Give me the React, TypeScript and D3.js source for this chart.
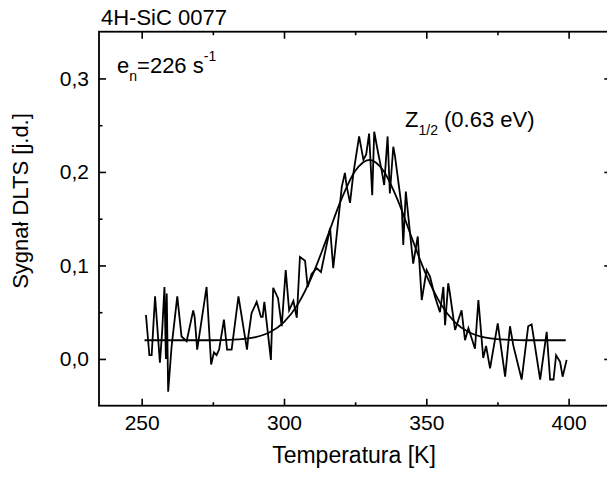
import React, { useEffect, useRef } from 'react';
import * as d3 from 'd3';

// measured DLTS signal (noisy trace)
const temperature = [
  251.5, 252.7, 253.5, 254.7, 256.4, 257.2, 258.0, 258.5, 258.8, 259.3, 260.5, 262.5, 264.0, 265.8,
  268.1, 268.6, 269.5, 272.8, 274.4, 275.4, 276.3, 277.2, 278.9, 280.0, 281.6, 284.0, 287.0, 287.5,
  288.6, 290.4, 291.9, 292.5, 293.1, 295.4, 296.2, 297.9, 299.2, 300.6, 301.8, 303.3, 304.5, 305.6,
  307.4, 308.3, 309.7, 311.5, 313.0, 316.2, 317.3, 320.3, 321.4, 322.0, 323.2, 324.4, 326.4, 327.9,
  328.9, 329.9, 331.0, 331.7, 333.1, 334.3, 335.2, 336.4, 337.2, 338.4, 339.0, 341.4, 341.9, 342.8,
  344.3, 345.4, 347.0, 348.4, 350.1, 351.3, 353.0, 354.8, 356.0, 356.6, 357.7, 358.3, 360.1, 362.4,
  363.6, 364.8, 367.1, 368.3, 370.0, 371.0, 372.4, 375.1, 377.7, 379.4, 380.6, 383.5, 385.8, 387.0,
  390.0, 392.3, 393.5, 394.7, 395.6, 397.0, 397.9, 399.3,
];
const signal = [
  0.047, 0.004, 0.004, 0.067, -0.004, 0.03, 0.077, 0.0, 0.07, -0.035, 0.013, 0.067, 0.024, 0.019,
  0.052, 0.045, 0.01, 0.077, -0.006, 0.007, 0.004, 0.01, 0.042, 0.01, 0.01, 0.067, 0.01, 0.025,
  0.049, 0.061, 0.045, 0.045, 0.061, -0.001, 0.076, 0.065, 0.035, 0.095, 0.052, 0.062, 0.044, 0.109,
  0.105, 0.077, 0.091, 0.097, 0.093, 0.14, 0.097, 0.184, 0.199, 0.185, 0.167, 0.199, 0.238, 0.213,
  0.219, 0.241, 0.175, 0.243, 0.22, 0.202, 0.186, 0.238, 0.177, 0.227, 0.217, 0.161, 0.122, 0.179,
  0.134, 0.102, 0.131, 0.063, 0.095, 0.088, 0.067, 0.05, 0.077, 0.036, 0.081, 0.07, 0.031, 0.052,
  0.02, 0.033, 0.011, 0.063, 0.001, 0.014, -0.01, 0.038, -0.019, 0.035, 0.014, -0.022, 0.035, 0.037,
  -0.022, 0.029, -0.022, -0.022, 0.004, -0.003, -0.019, -0.001,
];

// fitted Z1/2 peak
const fitTemperature = [
  251, 255, 260, 265, 270, 275, 280, 285, 290, 295, 300, 305, 310, 315, 320, 325, 330, 335, 340, 345,
  350, 355, 360, 365, 370, 375, 380, 385, 390, 395, 399,
];
const fitSignal = [
  0.02, 0.02, 0.02, 0.02, 0.02, 0.02, 0.0203, 0.0211, 0.0233, 0.0285, 0.0394, 0.0592, 0.0896, 0.1287,
  0.1696, 0.201, 0.213, 0.201, 0.1696, 0.1287, 0.0896, 0.0592, 0.0394, 0.0285, 0.0233, 0.0211,
  0.0203, 0.02, 0.02, 0.02, 0.02,
];

const xTicks = [250, 300, 350, 400];
const xMinorTicks = [275, 325, 375];
const yTicks = [0, 0.1, 0.2, 0.3];
const yMinorTicks = [0.05, 0.15, 0.25];

const FONT = "'Liberation Sans', Arial, sans-serif";

export default function App() {
  const ref = useRef<SVGSVGElement>(null);

  useEffect(() => {
    const width = 607;
    const height = 479;
    const svg = d3.select(ref.current);
    svg.selectAll('*').remove();

    const x = d3.scaleLinear().domain([235, 415]).range([99, 611.3]);
    const y = d3.scaleLinear().domain([-0.05, 0.35]).range([405.7, 31.7]);

    const g = svg.append('g');

    // data
    const pts = temperature.map((t, i) => [t, signal[i]] as [number, number]);
    const line = d3
      .line<[number, number]>()
      .x((d) => x(d[0]))
      .y((d) => y(d[1]));
    g.append('path')
      .attr('d', line(pts))
      .attr('fill', 'none')
      .attr('stroke', '#000')
      .attr('stroke-width', 1.8);

    const fit = fitTemperature.map((t, i) => [t, fitSignal[i]] as [number, number]);
    g.append('path')
      .attr('d', line.curve(d3.curveMonotoneX)(fit))
      .attr('fill', 'none')
      .attr('stroke', '#000')
      .attr('stroke-width', 1.8);

    // frame
    g.append('rect')
      .attr('x', x(235))
      .attr('y', y(0.35))
      .attr('width', x(415) - x(235))
      .attr('height', y(-0.05) - y(0.35))
      .attr('fill', 'none')
      .attr('stroke', '#000')
      .attr('stroke-width', 1.8);

    const styleAxis = (sel: d3.Selection<SVGGElement, unknown, null, undefined>) => {
      sel.select('.domain').remove();
      sel.selectAll('line').attr('stroke', '#000').attr('stroke-width', 1.6);
      sel.selectAll('text').attr('font-family', FONT).attr('font-size', 21).attr('fill', '#000');
    };

    const yFmt = (d: d3.NumberValue) => d3.format('.1f')(d as number).replace('.', ',');

    // bottom
    g.append('g')
      .attr('transform', `translate(0,${y(-0.05)})`)
      .call(d3.axisBottom(x).tickValues(xTicks).tickSize(-7).tickSizeOuter(0).tickPadding(9))
      .call(styleAxis);
    g.append('g')
      .attr('transform', `translate(0,${y(-0.05)})`)
      .call(d3.axisBottom(x).tickValues(xMinorTicks).tickSize(-3.5).tickSizeOuter(0).tickFormat(() => ''))
      .call(styleAxis);
    // top
    g.append('g')
      .attr('transform', `translate(0,${y(0.35)})`)
      .call(d3.axisTop(x).tickValues(xTicks).tickSize(-7).tickSizeOuter(0).tickFormat(() => ''))
      .call(styleAxis);
    g.append('g')
      .attr('transform', `translate(0,${y(0.35)})`)
      .call(d3.axisTop(x).tickValues(xMinorTicks).tickSize(-3.5).tickSizeOuter(0).tickFormat(() => ''))
      .call(styleAxis);
    // left
    g.append('g')
      .attr('transform', `translate(${x(235)},0)`)
      .call(d3.axisLeft(y).tickValues(yTicks).tickSize(-7).tickSizeOuter(0).tickPadding(10).tickFormat(yFmt))
      .call(styleAxis);
    g.append('g')
      .attr('transform', `translate(${x(235)},0)`)
      .call(d3.axisLeft(y).tickValues(yMinorTicks).tickSize(-3.5).tickSizeOuter(0).tickFormat(() => ''))
      .call(styleAxis);
    // right
    g.append('g')
      .attr('transform', `translate(${x(415)},0)`)
      .call(d3.axisRight(y).tickValues(yTicks).tickSize(-7).tickSizeOuter(0).tickFormat(() => ''))
      .call(styleAxis);
    g.append('g')
      .attr('transform', `translate(${x(415)},0)`)
      .call(d3.axisRight(y).tickValues(yMinorTicks).tickSize(-3.5).tickSizeOuter(0).tickFormat(() => ''))
      .call(styleAxis);

    // titles
    const text = (tx: number, ty: number, s: string, anchor = 'start', size = 22) =>
      g.append('text')
        .attr('x', tx)
        .attr('y', ty)
        .attr('text-anchor', anchor)
        .attr('font-family', FONT)
        .attr('font-size', size)
        .attr('fill', '#000')
        .text(s);

    text(101, 25, '4H-SiC 0077');
    text(354, 463, 'Temperatura [K]', 'middle', 23);
    text(0, 0, 'Sygnał DLTS [j.d.]', 'middle').attr('transform', `translate(28,201) rotate(-90)`);

    const en = text(117, 73, 'e');
    en.append('tspan').attr('font-size', 14).attr('dy', 8).text('n');
    en.append('tspan').attr('dy', -8).text('=226 s');
    en.append('tspan').attr('font-size', 14).attr('dy', -12).text('-1');

    const z = text(405, 127, 'Z');
    z.append('tspan').attr('font-size', 14).attr('dy', 8).text('1/2');
    z.append('tspan').attr('dy', -8).text(' (0.63 eV)');

    svg.attr('width', width).attr('height', height);
  }, []);

  return (
    <svg
      ref={ref}
      width={607}
      height={479}
      style={{ position: 'absolute', left: 0, top: 0, background: '#fff' }}
    />
  );
}
